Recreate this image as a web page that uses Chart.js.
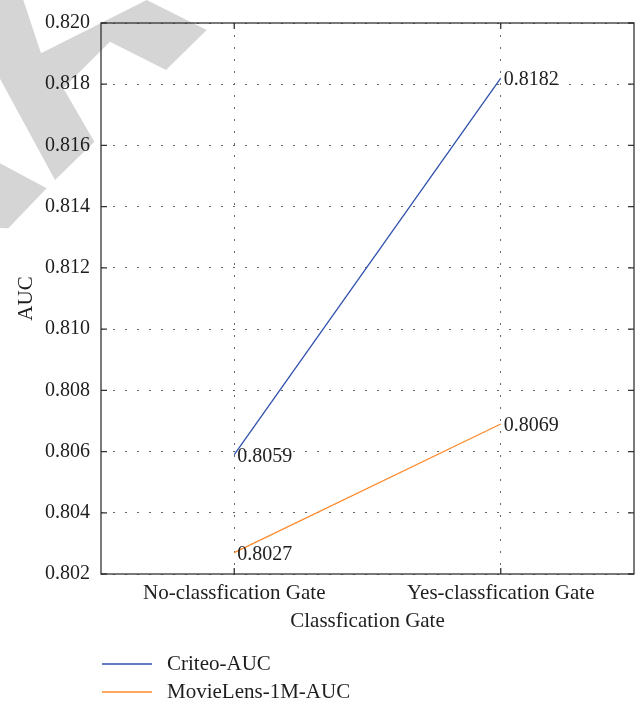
<!DOCTYPE html>
<html>
<head>
<meta charset="utf-8">
<script src="https://cdn.jsdelivr.net/npm/chart.js@4/dist/chart.umd.min.js"></script>
<style>
  html, body { margin: 0; padding: 0; background: #fff; }
  #wrap { width: 642px; height: 706px; }
</style>
</head>
<body>
<div id="wrap"><canvas id="c" width="642" height="706"></canvas></div>
<script>
const categories = ['No-classfication Gate', 'Yes-classfication Gate'];
const criteoAUC = [0.8059, 0.8182];
const movieLensAUC = [0.8027, 0.8069];
const seriesNames = ['Criteo-AUC', 'MovieLens-1M-AUC'];
const seriesColors = ['#3050ad', '#fd8a2c'];
const yMin = 0.802, yMax = 0.820, yStep = 0.002;

const FONT = "'Liberation Serif', 'DejaVu Serif', serif";
const TEXT = '#1e1e1e';

const watermark = {
  id: 'watermark',
  beforeDraw(chart) {
    const ctx = chart.ctx;
    ctx.save();
    ctx.fillStyle = '#d5d5d5';
    const s = 1 / 3;
    const p1 = [[0,0],[70,0],[123,160],[440,0],[620,90],[498,210],[330,125],[190,265],[283,425],[165,540],[0,236]];
    const p2 = [[0,490],[140,565],[25,685],[0,684]];
    [p1, p2].forEach(poly => {
      ctx.beginPath();
      poly.forEach((pt, i) => { const x = pt[0]*s, y = pt[1]*s; i ? ctx.lineTo(x, y) : ctx.moveTo(x, y); });
      ctx.closePath();
      ctx.fill();
    });
    ctx.restore();
  }
};

const frame = {
  id: 'frame',
  afterDraw(chart) {
    const ctx = chart.ctx;
    const a = chart.chartArea;
    const xs = chart.scales.x, ys = chart.scales.y;
    ctx.save();
    ctx.strokeStyle = '#333';
    ctx.lineWidth = 1.3;
    ctx.strokeRect(a.left, a.top, a.right - a.left, a.bottom - a.top);
    ctx.beginPath();
    ys.ticks.forEach(t => {
      const y = ys.getPixelForValue(t.value);
      ctx.moveTo(a.left, y); ctx.lineTo(a.left + 6, y);
      ctx.moveTo(a.right, y); ctx.lineTo(a.right - 6, y);
    });
    categories.forEach((c, i) => {
      const x = xs.getPixelForValue(i);
      ctx.moveTo(x, a.bottom); ctx.lineTo(x, a.bottom - 6);
      ctx.moveTo(x, a.top); ctx.lineTo(x, a.top + 6);
    });
    ctx.stroke();

    // value labels
    ctx.fillStyle = TEXT;
    ctx.font = '20px ' + FONT;
    ctx.textAlign = 'left';
    ctx.textBaseline = 'middle';
    chart.data.datasets.forEach((ds, di) => {
      const meta = chart.getDatasetMeta(di);
      meta.data.forEach((pt, i) => {
        ctx.fillText(ds.data[i].toFixed(4), pt.x + 3, pt.y + 2);
      });
    });

    // legend
    ctx.font = '21px ' + FONT;
    chart.data.datasets.forEach((ds, di) => {
      const y = 664 + di * 28;
      ctx.strokeStyle = ds.borderColor;
      ctx.lineWidth = 1.3;
      ctx.beginPath();
      ctx.moveTo(102, y); ctx.lineTo(152, y);
      ctx.stroke();
      ctx.fillStyle = TEXT;
      ctx.fillText(ds.label, 167, y);
    });
    ctx.restore();
  }
};

new Chart(document.getElementById('c'), {
  type: 'line',
  data: {
    labels: categories,
    datasets: [
      { label: seriesNames[0], data: criteoAUC, borderColor: seriesColors[0], borderWidth: 1.3, pointRadius: 0, fill: false, tension: 0 },
      { label: seriesNames[1], data: movieLensAUC, borderColor: seriesColors[1], borderWidth: 1.3, pointRadius: 0, fill: false, tension: 0 }
    ]
  },
  options: {
    responsive: false,
    animation: false,
    layout: { padding: { top: 13, right: 8, left: 0, bottom: 62 } },
    plugins: { legend: { display: false }, tooltip: { enabled: false } },
    scales: {
      x: {
        type: 'category',
        offset: true,
        grid: { color: '#666', lineWidth: 1, drawTicks: false, offset: false },
        border: { display: false, dash: [2, 10] },
        ticks: { color: TEXT, font: { family: FONT, size: 21 }, padding: 7, maxRotation: 0 },
        title: { display: true, text: 'Classfication Gate', color: TEXT, font: { family: FONT, size: 21 }, padding: { top: 0, bottom: 10 } },
        afterFit(s) { s.height = 70; }
      },
      y: {
        min: yMin, max: yMax,
        grid: { color: '#666', lineWidth: 1, drawTicks: false },
        border: { display: false, dash: [2, 10] },
        ticks: { stepSize: yStep, color: TEXT, font: { family: FONT, size: 20 }, padding: 11, callback: v => v.toFixed(3) },
        title: { display: true, text: 'AUC', color: TEXT, font: { family: FONT, size: 21 }, padding: { top: 14, bottom: 0 } },
        afterFit(s) { s.width = 101; }
      }
    }
  },
  plugins: [watermark, frame]
});
</script>
</body>
</html>
